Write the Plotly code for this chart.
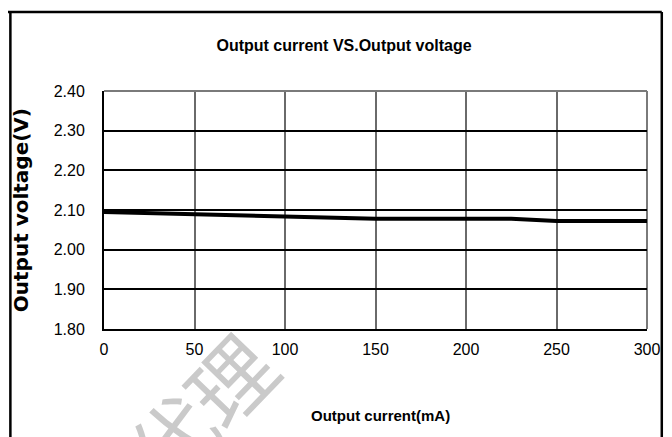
import plotly.graph_objects as go

# Data
current_mA = [0, 50, 100, 150, 200, 225, 250, 300]
voltage_V = [2.095, 2.089, 2.083, 2.078, 2.078, 2.078, 2.072, 2.072]

x_ticks = [0, 50, 100, 150, 200, 250, 300]
y_ticks = [1.80, 1.90, 2.00, 2.10, 2.20, 2.30, 2.40]
y_tick_labels = ["1.80", "1.90", "2.00", "2.10", "2.20", "2.30", "2.40"]

title_text = "Output current VS.Output voltage"
x_title = "Output current(mA)"
y_title = "Output voltage(V)"
watermark = "代理"

NARROW = "Liberation Sans Narrow, Arial Narrow, Liberation Sans, Arial, sans-serif"
WIDE = "DejaVu Sans, Liberation Sans, Arial, sans-serif"

# the page shows the figure with an 8px body offset; compensate
OFF = 8
W, H = 672 - OFF, 437 - OFF
# plot area in reference pixels: x 104..655, y 91..329
L = 104 - OFF
T = 91 - OFF
R = W - (655 - OFF)
B = H - (329 - OFF)
pw, ph = W - L - R, H - T - B


def px_x(p):
    """reference pixel x -> paper coordinate"""
    return (p - OFF - L) / pw


def px_y(p):
    """reference pixel y -> paper coordinate"""
    return (H - B - (p - OFF)) / ph


fig = go.Figure()
fig.add_trace(go.Scatter(
    x=current_mA, y=voltage_V, mode="lines",
    line=dict(color="black", width=4),
    showlegend=False, hoverinfo="skip",
))

frame = dict(color="black", width=2.5)

fig.update_layout(
    width=W, height=H,
    margin=dict(l=L, r=R, t=T, b=B),
    paper_bgcolor="white", plot_bgcolor="white",
    showlegend=False,
    title=dict(
        text=title_text, xref="container", x=(344 - OFF) / W, xanchor="center",
        yref="container", y=1 - (45 - OFF) / H, yanchor="middle",
        font=dict(family=NARROW, size=16, color="black", weight="bold"),
    ),
    xaxis=dict(
        range=[0, 300], tickmode="array", tickvals=x_ticks,
        showgrid=True, gridcolor="#6a6a6a", gridwidth=1.5,
        showline=True, linecolor="black", linewidth=2,
        zeroline=False, ticks="", ticklabelstandoff=5,
        tickfont=dict(family=NARROW, size=16, color="black"),
        fixedrange=True,
    ),
    yaxis=dict(
        range=[1.80, 2.40], tickmode="array", tickvals=y_ticks, ticktext=y_tick_labels,
        showgrid=True, gridcolor="black", gridwidth=1.5,
        showline=True, linecolor="black", linewidth=2,
        zeroline=False, ticks="", ticklabelstandoff=14,
        tickfont=dict(family=NARROW, size=16, color="black"),
        fixedrange=True,
    ),
    shapes=[
        # top and right plot edges in gray
        dict(type="line", xref="paper", yref="paper", x0=0, x1=1, y0=1, y1=1,
             line=dict(color="#7a7a7a", width=2), layer="above"),
        dict(type="line", xref="paper", yref="paper", x0=1, x1=1, y0=0, y1=1,
             line=dict(color="#7a7a7a", width=2), layer="below"),
        # outer frame (four edges)
        dict(type="line", xref="paper", yref="paper",
             x0=px_x(5), x1=px_x(670), y0=px_y(12), y1=px_y(12), line=frame),
        dict(type="line", xref="paper", yref="paper",
             x0=px_x(9), x1=px_x(9), y0=px_y(12), y1=px_y(440), line=frame),
        dict(type="line", xref="paper", yref="paper",
             x0=px_x(670), x1=px_x(670), y0=px_y(12), y1=px_y(440), line=frame),
    ],
    annotations=[
        dict(text=watermark, xref="paper", yref="paper",
             x=px_x(200), y=px_y(408), xanchor="center", yanchor="middle",
             showarrow=False, textangle=-46,
             font=dict(family="Noto Sans CJK SC", size=84, color="#cacaca")),
        dict(text=x_title, xref="paper", yref="paper",
             x=px_x(385), y=px_y(415), xanchor="center", yanchor="middle",
             showarrow=False,
             font=dict(family=NARROW, size=15, color="black", weight="bold")),
        dict(text=y_title, xref="paper", yref="paper",
             x=px_x(20), y=px_y(210), xanchor="center", yanchor="middle",
             showarrow=False, textangle=-90,
             font=dict(family=WIDE, size=20, color="black", weight="bold")),
    ],
)

fig.write_html("out.html")
